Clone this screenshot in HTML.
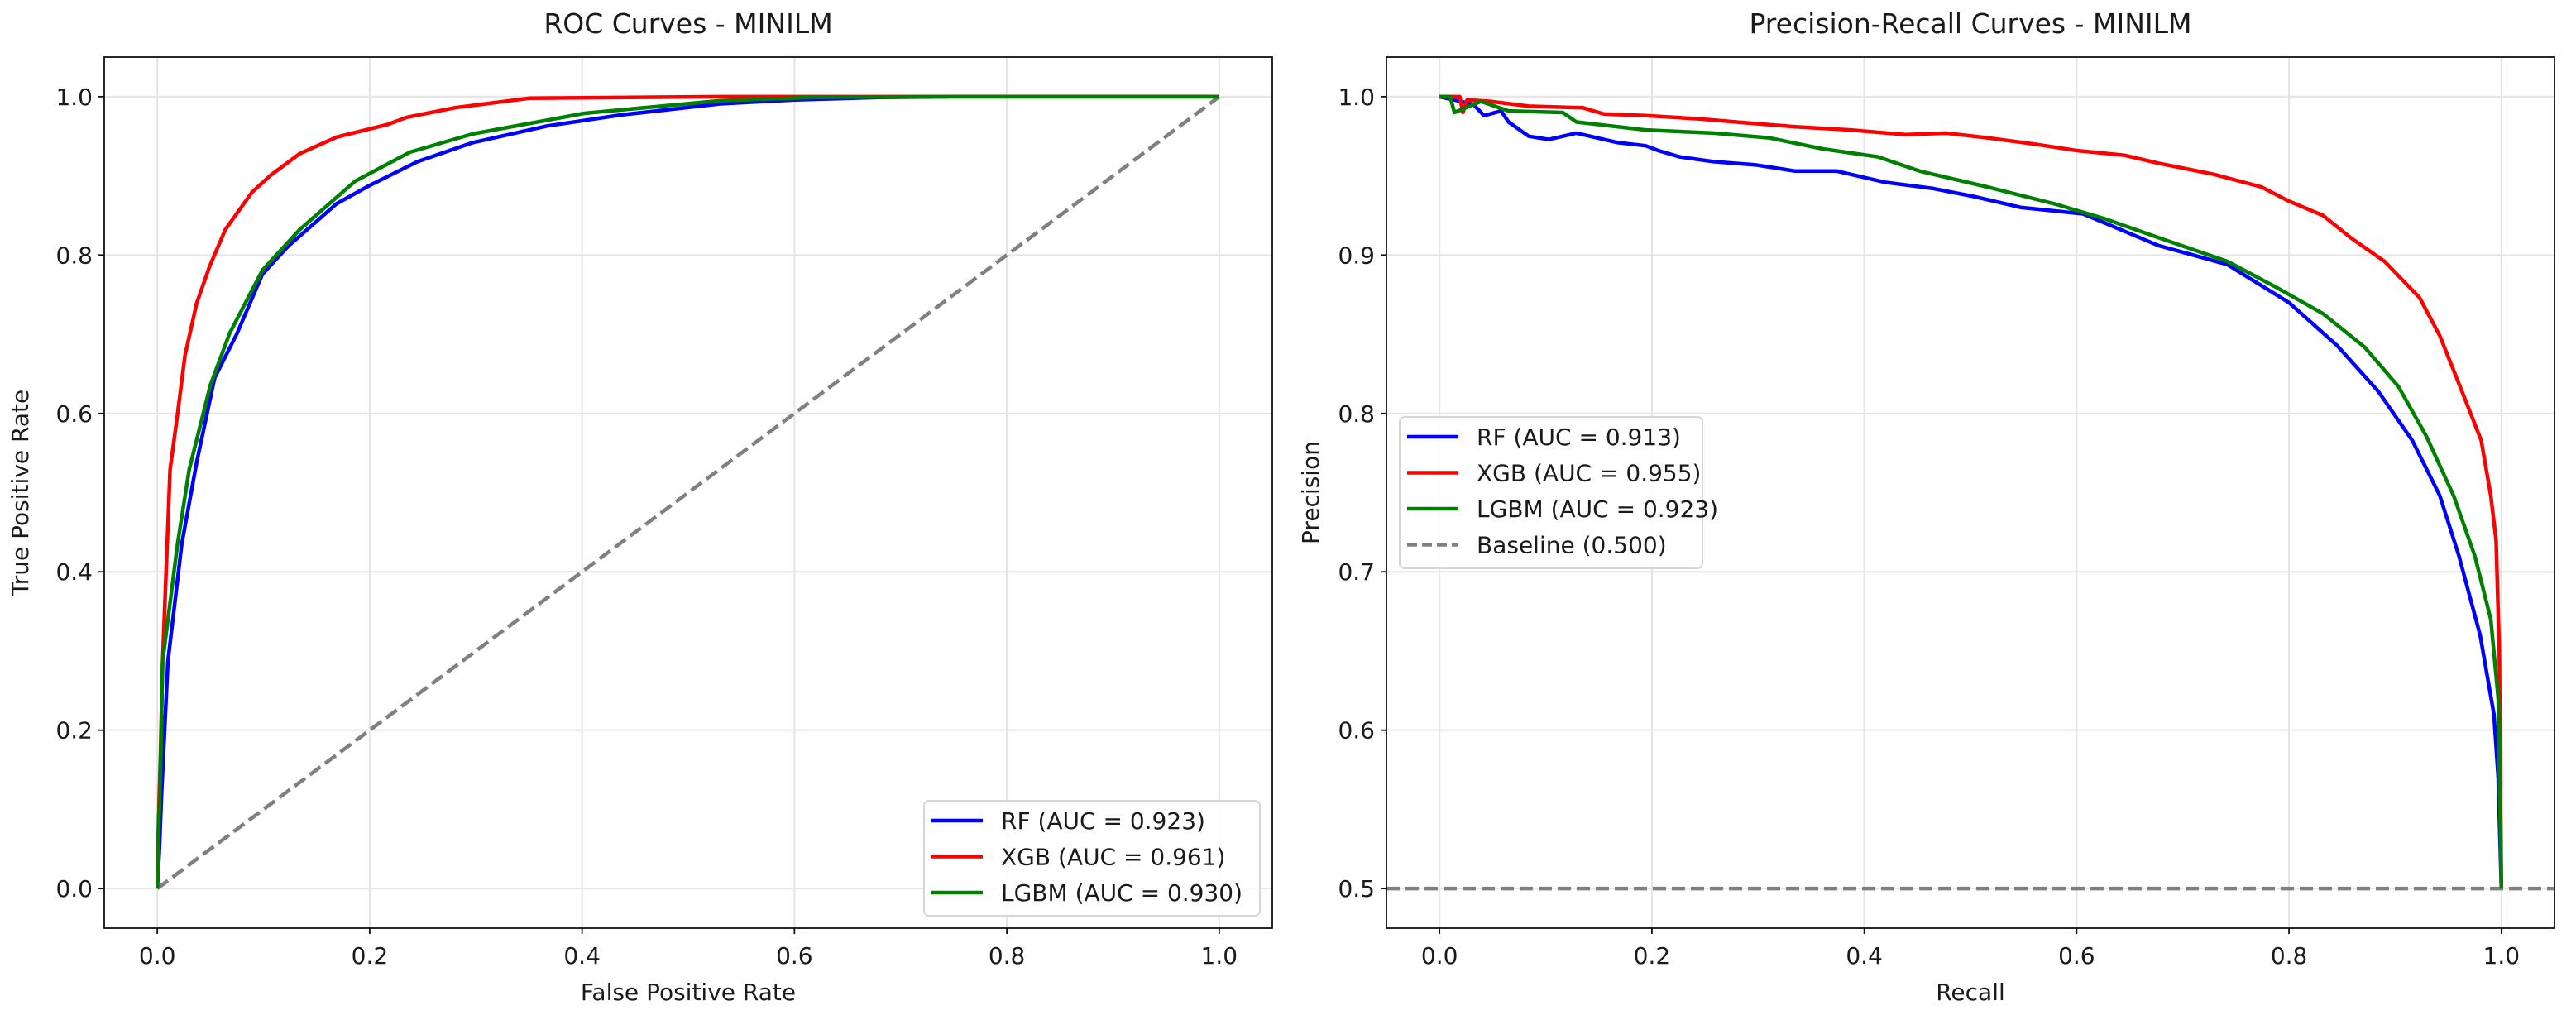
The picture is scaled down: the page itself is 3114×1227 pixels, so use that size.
<!DOCTYPE html>
<html><head><meta charset="utf-8"><style>
html,body{margin:0;padding:0;background:#fff}
svg{display:block}
text{font-family:"DejaVu Sans","Liberation Sans",sans-serif;fill:#1a1a1a}
</style></head><body>
<svg id="fig" width="3114" height="1227" viewBox="0 0 3114 1227" xmlns="http://www.w3.org/2000/svg"></svg>
<script>
// ---- data ----
const rocTicksX = [0, 0.2, 0.4, 0.6, 0.8, 1.0];
const rocTicksY = [0, 0.2, 0.4, 0.6, 0.8, 1.0];
const prTicksX = [0, 0.2, 0.4, 0.6, 0.8, 1.0];
const prTicksY = [0.5, 0.6, 0.7, 0.8, 0.9, 1.0];

const rocRfX = [0,0.002,0.004,0.01,0.023,0.037,0.054,0.075,0.099,0.123,0.169,0.2,0.245,0.297,0.367,0.437,0.53,0.6,0.68,0.75,1.0];
const rocRfY = [0,0.05,0.12,0.287,0.435,0.538,0.645,0.701,0.776,0.811,0.865,0.888,0.918,0.942,0.963,0.977,0.991,0.996,0.999,1.0,1.0];
const rocXgbX = [0,0.001,0.003,0.005,0.012,0.019,0.026,0.037,0.049,0.064,0.089,0.106,0.134,0.169,0.217,0.235,0.28,0.35,0.53,1.0];
const rocXgbY = [0,0.08,0.17,0.287,0.529,0.599,0.673,0.739,0.785,0.832,0.879,0.9,0.928,0.949,0.965,0.974,0.986,0.998,1.0,1.0];
const rocLgbX = [0,0.001,0.003,0.005,0.019,0.03,0.05,0.068,0.099,0.134,0.186,0.238,0.297,0.402,0.53,0.62,0.72,1.0];
const rocLgbY = [0,0.06,0.15,0.287,0.435,0.529,0.636,0.701,0.781,0.832,0.893,0.93,0.953,0.979,0.995,0.999,1.0,1.0];

const prRfX = [0,0.02,0.032,0.042,0.058,0.065,0.084,0.103,0.129,0.148,0.168,0.194,0.206,0.226,0.258,0.297,0.335,0.374,0.419,0.465,0.503,0.548,0.606,0.677,0.742,0.8,0.845,0.884,0.916,0.942,0.96,0.98,0.993,0.997,1.0];
const prRfY = [1.0,0.997,0.995,0.988,0.991,0.984,0.975,0.973,0.977,0.974,0.971,0.969,0.966,0.962,0.959,0.957,0.953,0.953,0.946,0.942,0.937,0.930,0.926,0.906,0.894,0.870,0.843,0.814,0.783,0.748,0.71,0.66,0.61,0.57,0.5];
const prXgbX = [0,0.019,0.022,0.026,0.048,0.084,0.135,0.155,0.194,0.245,0.297,0.335,0.387,0.439,0.477,0.516,0.561,0.6,0.645,0.677,0.729,0.774,0.8,0.832,0.858,0.89,0.923,0.942,0.961,0.981,0.99,0.995,0.998,1.0];
const prXgbY = [1.0,1.0,0.99,0.998,0.997,0.994,0.993,0.989,0.988,0.986,0.983,0.981,0.979,0.976,0.977,0.974,0.970,0.966,0.963,0.958,0.951,0.943,0.934,0.925,0.911,0.896,0.873,0.849,0.817,0.783,0.748,0.72,0.65,0.5];
const prLgbX = [0,0.01,0.014,0.039,0.065,0.116,0.129,0.194,0.258,0.31,0.361,0.413,0.452,0.516,0.581,0.626,0.677,0.742,0.787,0.832,0.871,0.903,0.929,0.955,0.975,0.99,0.997,1.0];
const prLgbY = [1.0,1.0,0.99,0.997,0.991,0.99,0.984,0.979,0.977,0.974,0.967,0.962,0.953,0.943,0.932,0.923,0.911,0.896,0.880,0.863,0.842,0.817,0.786,0.748,0.71,0.67,0.62,0.5];
const baseline = 0.5;

// ---- layout ----
const NS = "http://www.w3.org/2000/svg";
const fig = document.getElementById('fig');
function el(tag, attrs, parent){
  const e = document.createElementNS(NS, tag);
  for (const k in attrs) e.setAttribute(k, attrs[k]);
  (parent||fig).appendChild(e); return e;
}
function mkAxes(left, right, top, bottom, xmin, xmax, ymin, ymax){
  return {
    left, right, top, bottom,
    sx: v => left + (v - xmin) / (xmax - xmin) * (right - left),
    sy: v => bottom - (v - ymin) / (ymax - ymin) * (bottom - top)
  };
}
const A = mkAxes(126, 1538, 69, 1122, -0.05, 1.05, -0.05, 1.05);
const B = mkAxes(1676, 3088, 69, 1122, -0.05, 1.05, 0.475, 1.025);

function fmt(v){ return v.toFixed(1); }

function drawFrame(ax, ticksX, ticksY, name){
  const g = el('g', {});
  
  
  ticksX.forEach(t => {
    const l = el('line', {x1: ax.sx(t), x2: ax.sx(t), y1: ax.top, y2: ax.bottom, stroke:'#e4e4e4', 'stroke-width':2}, g);
    
    
  });
  ticksY.forEach(t => {
    const l = el('line', {x1: ax.left, x2: ax.right, y1: ax.sy(t), y2: ax.sy(t), stroke:'#e4e4e4', 'stroke-width':2}, g);
    
    
  });
}
function drawAxesTicks(ax, ticksX, ticksY, name){
  const r = el('rect', {x: ax.left, y: ax.top, width: ax.right-ax.left, height: ax.bottom-ax.top, fill:'none', stroke:'#111', 'stroke-width':1.8});
  
  
  ticksX.forEach(t => {
    const x = ax.sx(t);
    el('line', {x1:x, x2:x, y1:ax.bottom, y2:ax.bottom+7, stroke:'#111', 'stroke-width':1.8});
    const tx = el('text', {x:x, y:ax.bottom+43, 'text-anchor':'middle', 'font-size':28});
    tx.textContent = fmt(t);
    
    
  });
  ticksY.forEach(t => {
    const y = ax.sy(t);
    el('line', {x1:ax.left-7, x2:ax.left, y1:y, y2:y, stroke:'#111', 'stroke-width':1.8});
    const ty = el('text', {x:ax.left-14, y:y+10, 'text-anchor':'end', 'font-size':28});
    ty.textContent = fmt(t);
    
    
  });
}
function drawLine(ax, xs, ys, color, name, dash){
  let d = '';
  xs.forEach((v,i) => { d += (i ? 'L' : 'M') + ax.sx(v).toFixed(1) + ',' + ax.sy(ys[i]).toFixed(1); });
  const p = el('path', {d, fill:'none', stroke:color, 'stroke-width':4.5, 'stroke-linejoin':'round', 'stroke-linecap':'butt'});
  if (dash) p.setAttribute('stroke-dasharray', dash);
  
  
  return p;
}
function drawLegend(x, y, w, h, items, name){
  const g = el('g', {});
  
  
  el('rect', {x, y, width:w, height:h, rx:6, fill:'#fff', 'fill-opacity':0.85, stroke:'#d6d6d6', 'stroke-width':2}, g);
  items.forEach((it, i) => {
    const cy = y + 24 + i*43.5;
    const ln = el('line', {x1:x+9, x2:x+71, y1:cy, y2:cy, stroke:it.c, 'stroke-width':4.5}, g);
    if (it.dash) ln.setAttribute('stroke-dasharray', it.dash);
    const t = el('text', {x:x+93, y:cy+10, 'font-size':28}, g);
    t.textContent = it.t;
    
    
  });
}
function label(x, y, txt, size, name, rot){
  const t = el('text', {x, y, 'text-anchor':'middle', 'font-size':size});
  if (rot) t.setAttribute('transform', 'rotate(-90 ' + x + ' ' + y + ')');
  t.textContent = txt;
  
  
}

// ROC panel
drawFrame(A, rocTicksX, rocTicksY, 'roc');
const diag = drawLine(A, [0,1], [0,1], '#808080', 'roc-chance-diagonal', '16,7');
drawLine(A, rocRfX, rocRfY, '#0000ff', 'roc-rf-curve');
drawLine(A, rocXgbX, rocXgbY, '#ff0000', 'roc-xgb-curve');
drawLine(A, rocLgbX, rocLgbY, '#008000', 'roc-lgbm-curve');
drawAxesTicks(A, rocTicksX, rocTicksY, 'roc');
drawLegend(1117, 968, 406, 139, [
  {c:'#0000ff', t:'RF (AUC = 0.923)'},
  {c:'#ff0000', t:'XGB (AUC = 0.961)'},
  {c:'#008000', t:'LGBM (AUC = 0.930)'}], 'roc-legend');
label((A.left+A.right)/2, 40, 'ROC Curves - MINILM', 33, 'roc-title');
label((A.left+A.right)/2, 1209, 'False Positive Rate', 28, 'roc-x-axis-title');
label(34, (A.top+A.bottom)/2, 'True Positive Rate', 28, 'roc-y-axis-title', true);

// PR panel
drawFrame(B, prTicksX, prTicksY, 'pr');
drawLine(B, [-0.05,1.05], [baseline, baseline], '#808080', 'pr-baseline', '16,7');
drawLine(B, prRfX, prRfY, '#0000ff', 'pr-rf-curve');
drawLine(B, prXgbX, prXgbY, '#ff0000', 'pr-xgb-curve');
drawLine(B, prLgbX, prLgbY, '#008000', 'pr-lgbm-curve');
drawAxesTicks(B, prTicksX, prTicksY, 'pr');
drawLegend(1692, 504, 366, 183, [
  {c:'#0000ff', t:'RF (AUC = 0.913)'},
  {c:'#ff0000', t:'XGB (AUC = 0.955)'},
  {c:'#008000', t:'LGBM (AUC = 0.923)'},
  {c:'#808080', t:'Baseline (0.500)', dash:'12,6'}], 'pr-legend');
label((B.left+B.right)/2, 40, 'Precision-Recall Curves - MINILM', 33, 'pr-title');
label((B.left+B.right)/2, 1209, 'Recall', 28, 'pr-x-axis-title');
label(1594, (B.top+B.bottom)/2, 'Precision', 28, 'pr-y-axis-title', true);
</script>
</body></html>
